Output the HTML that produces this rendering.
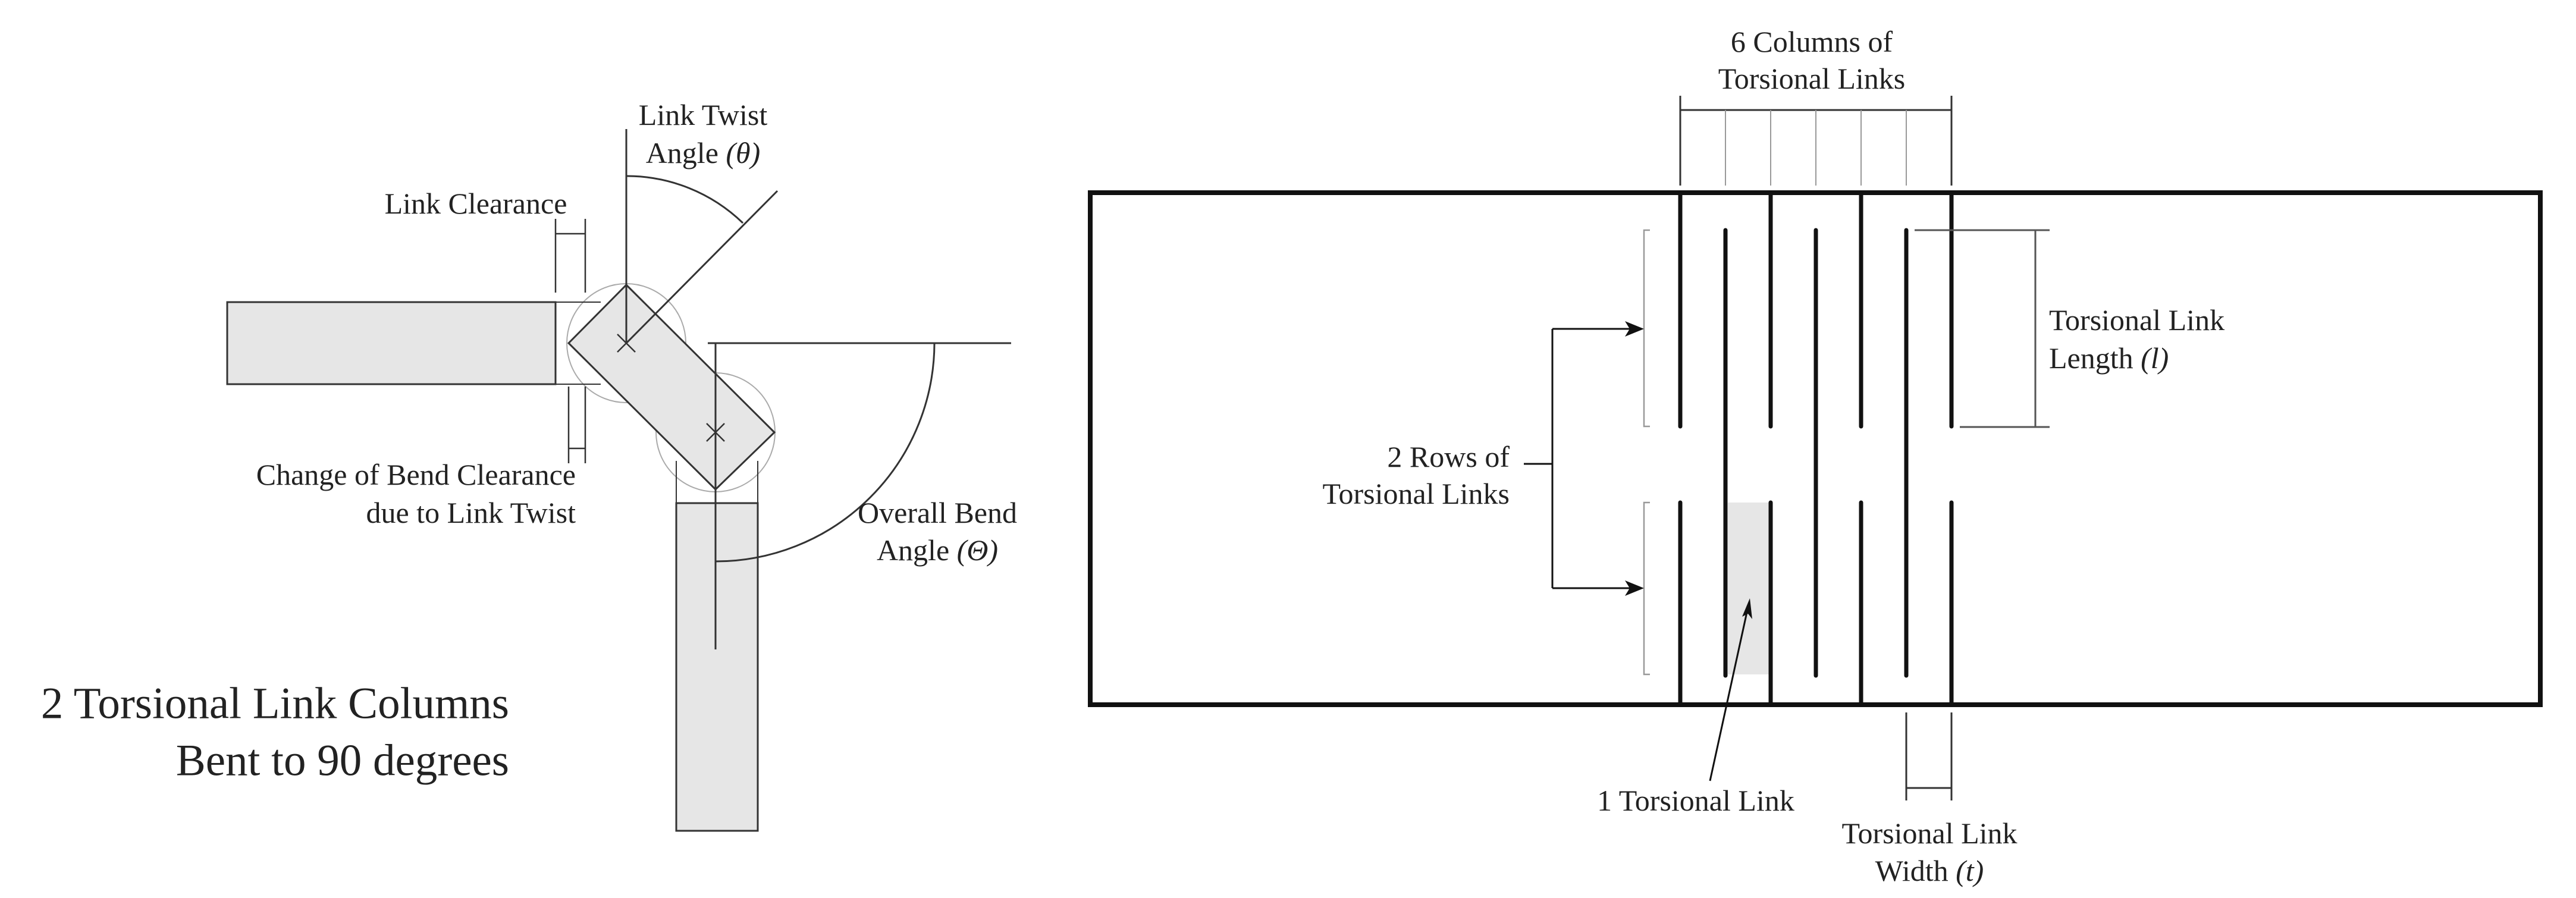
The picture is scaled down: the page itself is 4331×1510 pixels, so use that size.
<!DOCTYPE html>
<html><head><meta charset="utf-8"><style>
html,body{margin:0;padding:0;background:#fff;}
svg{display:block;}
text{font-family:"Liberation Serif",serif;fill:#222;dominant-baseline:central;}
</style></head><body>
<svg width="4331" height="1510" viewBox="0 0 4331 1510" xmlns="http://www.w3.org/2000/svg">
<g stroke="#333" stroke-width="3" fill="none">
  <circle cx="1053" cy="577" r="100" fill="#fff" stroke="#aaa" stroke-width="2"/>
  <circle cx="1203" cy="727" r="100" fill="#fff" stroke="#aaa" stroke-width="2"/>
  <rect x="382" y="508" width="552" height="138" fill="#e6e6e6"/>
  <line x1="934" y1="508" x2="1010" y2="508" stroke-width="2"/>
  <line x1="934" y1="646" x2="1010" y2="646" stroke-width="2"/>
  <rect x="1137" y="846" width="137" height="551" fill="#e6e6e6"/>
  <line x1="1137" y1="775" x2="1137" y2="846" stroke-width="2"/>
  <line x1="1274" y1="775" x2="1274" y2="846" stroke-width="2"/>
  <polygon points="1053,479 1302,727 1203,823 956,577" fill="#e6e6e6"/>
  <path d="M1038 562 L1068 592 M1068 562 L1038 592 M1188 712 L1218 742 M1218 712 L1188 742" stroke-width="2.5"/>
  <line x1="1053" y1="217" x2="1053" y2="577"/>
  <line x1="1053" y1="577" x2="1307" y2="321"/>
  <path d="M1053 296 A281 281 0 0 1 1249 375"/>
  <line x1="1190" y1="577" x2="1700" y2="577"/>
  <line x1="1203" y1="577" x2="1203" y2="1092"/>
  <path d="M1571 577 A368 368 0 0 1 1203 944"/>
  <path d="M934 368 V492 M984 368 V492 M934 393 H984" stroke-width="2.5"/>
  <path d="M956 650 V779 M984 650 V779 M956 754 H984" stroke-width="2.5"/>
</g>
<text x="1182" y="193" font-size="50" text-anchor="middle">Link Twist</text>
<text x="1182" y="257" font-size="50" text-anchor="middle">Angle <tspan font-style="italic">(θ)</tspan></text>
<text x="800" y="342" font-size="50" text-anchor="middle">Link Clearance</text>
<text x="968" y="798" font-size="50" text-anchor="end">Change of Bend Clearance</text>
<text x="968" y="862" font-size="50" text-anchor="end">due to Link Twist</text>
<text x="1576" y="862" font-size="50" text-anchor="middle">Overall Bend</text>
<text x="1576" y="925" font-size="50" text-anchor="middle">Angle <tspan font-style="italic">(Θ)</tspan></text>
<text x="856" y="1183" font-size="75" text-anchor="end">2 Torsional Link Columns</text>
<text x="856" y="1279" font-size="75" text-anchor="end">Bent to 90 degrees</text>

<g stroke="#111" fill="none">
  <rect x="2905" y="845" width="70" height="289" fill="#e6e6e6" stroke="none"/>
  <rect x="1833" y="324" width="2438" height="861" stroke-width="8"/>
  <g stroke-width="7" stroke-linecap="round">
    <path d="M2825 326 V717 M2825 845 V1183 M2977 326 V717 M2977 845 V1183 M3129 326 V717 M3129 845 V1183 M3281 326 V717 M3281 845 V1183"/>
    <path d="M2901 387 V1136 M3053 387 V1136 M3205 387 V1136"/>
  </g>
  <g stroke-width="2">
    <path d="M2825 161 V312 M3281 161 V312 M2825 185 H3281" stroke="#333" stroke-width="3"/>
    <path d="M2901 185 V312 M2977 185 V312 M3053 185 V312 M3129 185 V312 M3205 185 V312" stroke="#999"/>
  </g>
  <path d="M2774 387 H2764 V717 H2774 M2774 845 H2764 V1134 H2774" stroke="#999" stroke-width="2.5"/>
  <path d="M2562 780 H2610 M2610 553 V989 M2610 553 H2750 M2610 989 H2750" stroke-width="3"/>
  <path d="M2764 553 L2732 540 L2740 553 L2732 566 Z M2764 989 L2732 976 L2740 989 L2732 1002 Z" fill="#111" stroke="none"/>
  <line x1="2875" y1="1313" x2="2938" y2="1025" stroke-width="3"/>
  <path d="M2942 1006 L2946 1041 L2939 1032 L2929 1037 Z" fill="#111" stroke="none"/>
  <path d="M3219 387 H3446 M3295 718 H3446 M3422 387 V718" stroke="#555" stroke-width="3"/>
  <path d="M3205 1198 V1346 M3281 1198 V1346 M3205 1325 H3281" stroke="#333" stroke-width="3"/>
</g>
<text x="3046" y="70" font-size="50" text-anchor="middle">6 Columns of</text>
<text x="3046" y="132" font-size="50" text-anchor="middle">Torsional Links</text>
<text x="2538" y="768" font-size="50" text-anchor="end">2 Rows of</text>
<text x="2538" y="830" font-size="50" text-anchor="end">Torsional Links</text>
<text x="3445" y="538" font-size="50">Torsional Link</text>
<text x="3445" y="602" font-size="50">Length <tspan font-style="italic">(l)</tspan></text>
<text x="2851" y="1346" font-size="50" text-anchor="middle">1 Torsional Link</text>
<text x="3244" y="1401" font-size="50" text-anchor="middle">Torsional Link</text>
<text x="3244" y="1464" font-size="50" text-anchor="middle">Width <tspan font-style="italic">(t)</tspan></text>
</svg>
</body></html>
